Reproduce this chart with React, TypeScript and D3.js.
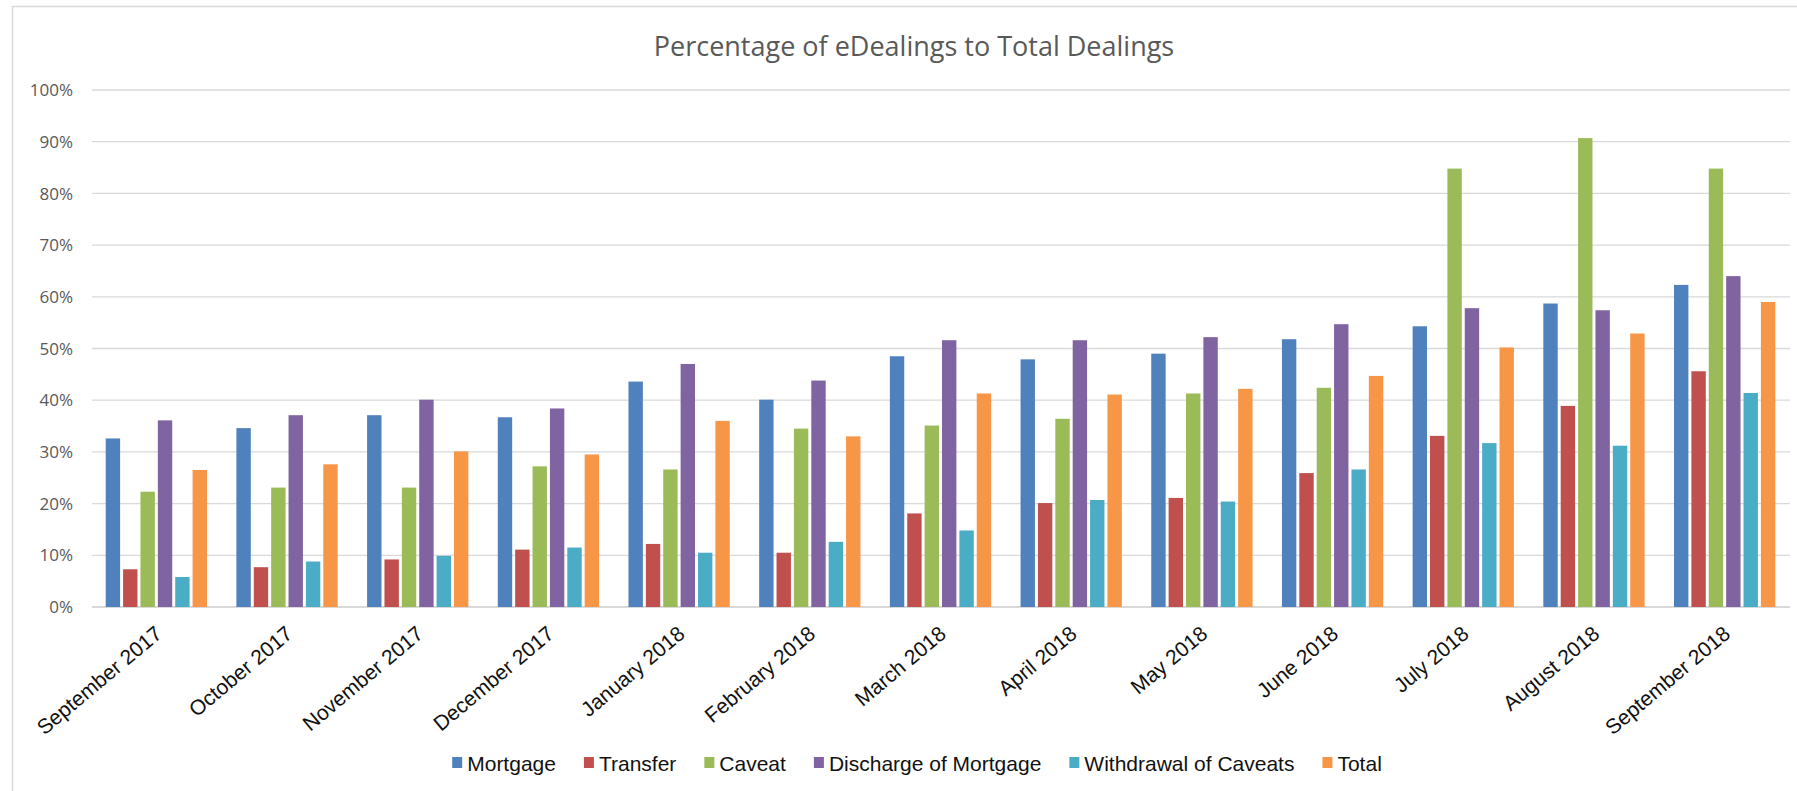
import React, { useEffect, useRef } from 'react';
import * as d3 from 'd3';

const months = [
  'September 2017', 'October 2017', 'November 2017', 'December 2017',
  'January 2018', 'February 2018', 'March 2018', 'April 2018',
  'May 2018', 'June 2018', 'July 2018', 'August 2018', 'September 2018',
];
const seriesNames = ['Mortgage', 'Transfer', 'Caveat', 'Discharge of Mortgage', 'Withdrawal of Caveats', 'Total'];
const seriesColors = ['#4F81BD', '#C0504D', '#9BBB59', '#8064A2', '#4BACC6', '#F79646'];

const mortgage = [32.6, 34.6, 37.1, 36.7, 43.6, 40.1, 48.5, 47.9, 49.0, 51.8, 54.3, 58.7, 62.3];
const transfer = [7.3, 7.7, 9.2, 11.1, 12.2, 10.5, 18.1, 20.1, 21.1, 25.9, 33.1, 38.9, 45.6];
const caveat = [22.3, 23.1, 23.1, 27.2, 26.6, 34.5, 35.1, 36.4, 41.3, 42.4, 84.8, 90.7, 84.8];
const discharge = [36.1, 37.1, 40.1, 38.4, 47.0, 43.8, 51.6, 51.6, 52.2, 54.7, 57.8, 57.4, 64.0];
const withdrawal = [5.8, 8.8, 9.9, 11.5, 10.5, 12.6, 14.8, 20.7, 20.4, 26.6, 31.7, 31.2, 41.4];
const total = [26.5, 27.6, 30.1, 29.5, 36.0, 33.0, 41.3, 41.1, 42.2, 44.7, 50.2, 52.9, 59.0];

const seriesValues = [mortgage, transfer, caveat, discharge, withdrawal, total];
const yTicks = [0, 10, 20, 30, 40, 50, 60, 70, 80, 90, 100];
const chartTitle = 'Percentage of eDealings to Total Dealings';

const W = 1797;
const H = 791;

export default function App() {
  const ref = useRef<SVGSVGElement | null>(null);

  useEffect(() => {
    const svg = d3.select(ref.current);
    svg.selectAll('*').remove();

    const plotLeft = 91;
    const plotRight = 1790;
    const y0 = 607;
    const y100 = 90;

    const x0 = d3.scaleBand<string>().domain(months).range([plotLeft, plotRight])
      .paddingInner(0.225).paddingOuter(0.1125);
    const x1 = d3.scaleBand<string>().domain(seriesNames).range([0, x0.bandwidth()])
      .paddingInner(0.172).paddingOuter(0);
    const y = d3.scaleLinear().domain([0, 100]).range([y0, y100]);

    // border
    svg.append('rect')
      .attr('x', 12.5).attr('y', 6.5)
      .attr('width', 1800).attr('height', 800)
      .attr('fill', '#fff').attr('stroke', '#d9d9d9').attr('stroke-width', 1.5);

    // title
    svg.append('text')
      .attr('x', 914).attr('y', 56)
      .attr('text-anchor', 'middle')
      .attr('font-family', '"Open Sans", sans-serif')
      .attr('font-size', 27)
      .attr('fill', '#595959')
      .text(chartTitle);

    // gridlines
    svg.append('g').selectAll('line').data(yTicks).join('line')
      .attr('x1', plotLeft + 1).attr('x2', plotRight)
      .attr('y1', (d) => y(d)).attr('y2', (d) => y(d))
      .attr('stroke', '#d9d9d9')
      .attr('stroke-width', (d) => (d === 0 ? 2 : 1.3));

    // y labels
    svg.append('g').selectAll('text').data(yTicks).join('text')
      .attr('x', 73).attr('y', (d) => y(d))
      .attr('dy', '0.36em')
      .attr('text-anchor', 'end')
      .attr('font-family', '"Open Sans", sans-serif')
      .attr('font-size', 17)
      .attr('fill', '#595959')
      .text((d) => `${d}%`);

    // bars
    const groups = svg.append('g').selectAll('g').data(months).join('g')
      .attr('transform', (m) => `translate(${x0(m)},0)`);
    groups.selectAll('rect')
      .data((m) => seriesNames.map((s, k) => ({ s, k, v: seriesValues[k][months.indexOf(m)] })))
      .join('rect')
      .attr('x', (d) => x1(d.s) as number)
      .attr('width', x1.bandwidth())
      .attr('y', (d) => y(d.v))
      .attr('height', (d) => y0 - y(d.v))
      .attr('fill', (d) => seriesColors[d.k]);

    // x labels
    svg.append('g').selectAll('text').data(months).join('text')
      .attr('transform', (m) => {
        const cx = (x0(m) as number) + x0.bandwidth() / 2 + 7;
        return `translate(${cx},636) rotate(-40)`;
      })
      .attr('text-anchor', 'end')
      .attr('font-family', '"Liberation Sans", Arial, sans-serif')
      .attr('font-size', 21)
      .attr('fill', '#111')
      .text((m) => m);

    // legend
    const legend = svg.append('g');
    const items = legend.selectAll('g').data(seriesNames).join('g');
    items.append('rect')
      .attr('width', 10).attr('height', 11)
      .attr('y', 757)
      .attr('fill', (d, i) => seriesColors[i]);
    const texts = items.append('text')
      .attr('y', 771)
      .attr('font-family', '"Liberation Sans", Arial, sans-serif')
      .attr('font-size', 21)
      .attr('fill', '#111')
      .text((d) => d);
    const widths: number[] = [];
    texts.each(function () {
      widths.push((this as SVGTextElement).getComputedTextLength());
    });
    const markerW = 10;
    const markerGap = 5;
    const itemGap = 28;
    const totalW = widths.reduce((a, w) => a + markerW + markerGap + w, 0) + itemGap * (widths.length - 1);
    let cursor = 917 - totalW / 2;
    items.each(function (d, i) {
      const g = d3.select(this);
      g.select('rect').attr('x', cursor);
      g.select('text').attr('x', cursor + markerW + markerGap);
      cursor += markerW + markerGap + widths[i] + itemGap;
    });
  }, []);

  return (
    <svg
      ref={ref}
      width={W}
      height={H}
      style={{ position: 'absolute', left: 0, top: 0, background: '#fff' }}
    />
  );
}
